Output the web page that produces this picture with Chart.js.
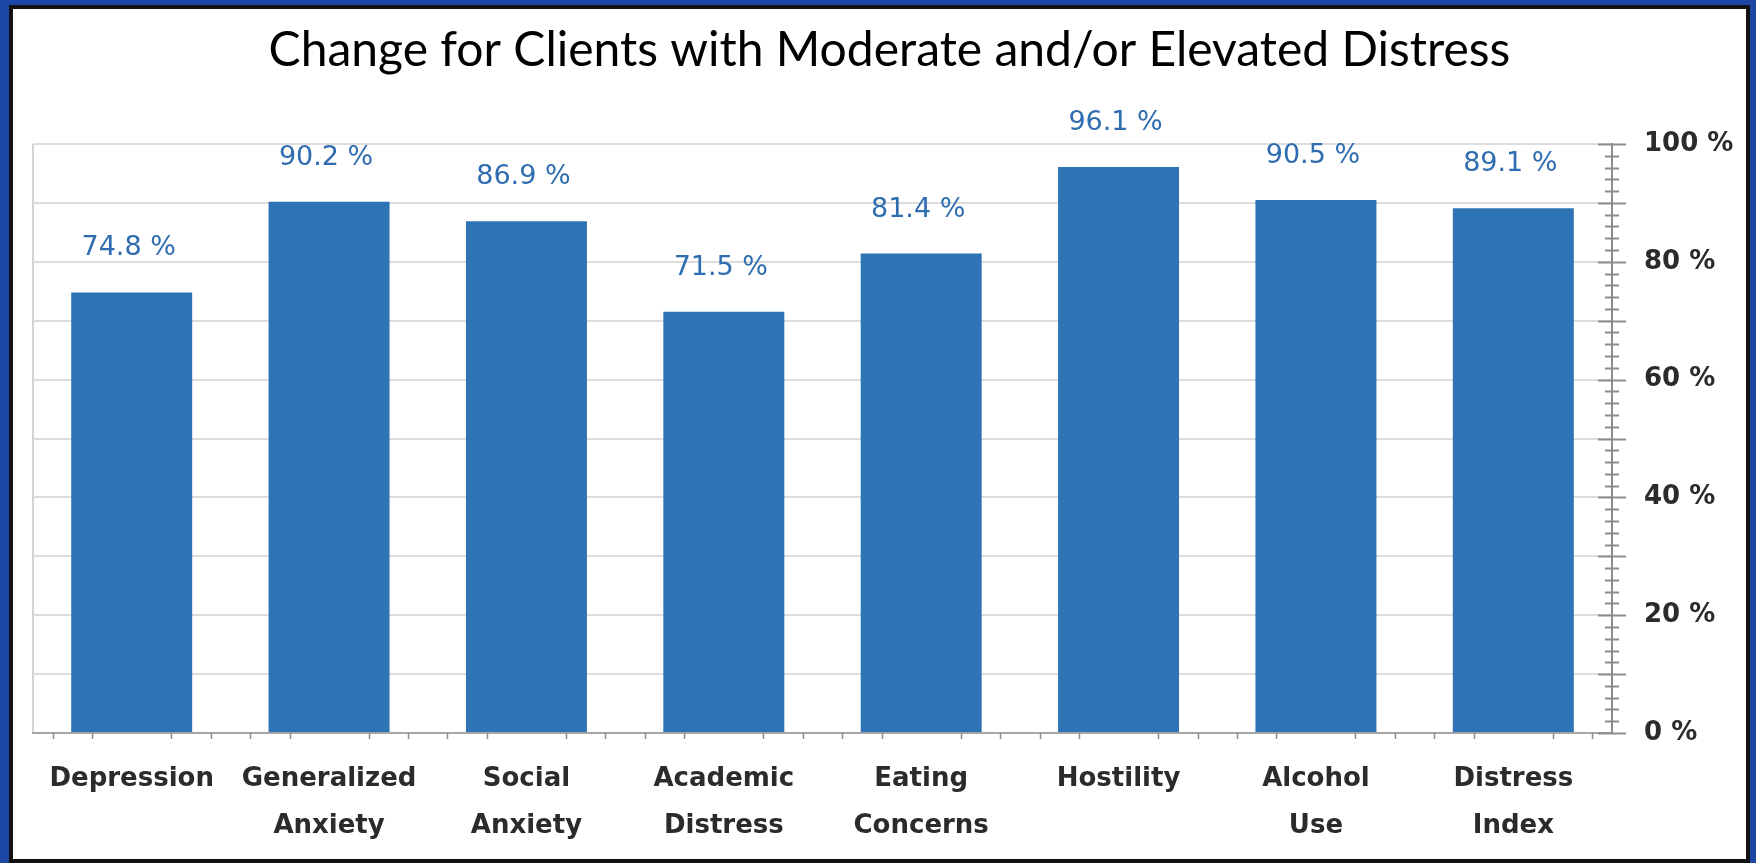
<!DOCTYPE html>
<html>
<head>
<meta charset="utf-8">
<title>Change for Clients with Moderate and/or Elevated Distress</title>
<script src="https://cdn.jsdelivr.net/npm/chart.js@4.4.1/dist/chart.umd.min.js"></script>
<style>
    html, body { margin: 0; padding: 0; }
    body { width: 1756px; height: 863px; background: #1b46a3; position: relative; overflow: hidden; }
    .frame {
        position: absolute; left: 9px; top: 5px; width: 1741px; height: 858px;
        box-sizing: border-box; border: 4px solid #111; background: #fff;
    }
    .frame canvas { display: block; }
</style>
</head>
<body>
<div class="frame">
    <canvas id="changeChart" width="1733" height="850"></canvas>
</div>
<script>
// Share of clients showing change, by scale
const categories = [
    'Depression',
    ['Generalized', 'Anxiety'],
    ['Social', 'Anxiety'],
    ['Academic', 'Distress'],
    ['Eating', 'Concerns'],
    'Hostility',
    ['Alcohol', 'Use'],
    ['Distress', 'Index']
];
const changeValues = [74.8, 90.2, 86.9, 71.5, 81.4, 96.1, 90.5, 89.1];
const percentTicks = [0, 20, 40, 60, 80, 100];

const tahomaLike = "'DejaVu Sans', Verdana, sans-serif";

// Tick marks on both axes and value labels above the bars
const axisMarks = {
    id: 'axisMarks',
    afterDraw(chart) {
        const { ctx, scales: { x, y } } = chart;
        ctx.save();
        ctx.strokeStyle = '#8c8c8c';

        // y axis: long marks every 10, short every 2
        ctx.lineWidth = 2;
        for (let v = 0; v <= 100; v += 2) {
            const py = Math.round(y.getPixelForValue(v)) + 0.5;
            const half = v % 10 === 0 ? 14 : 7;
            ctx.beginPath();
            ctx.moveTo(y.left - half, py);
            ctx.lineTo(y.left + half, py);
            ctx.stroke();
        }

        // x axis: small marks under each category
        ctx.lineWidth = 1.5;
        categories.forEach((c, i) => {
            [-0.4, -0.2, 0.2, 0.4].forEach(f => {
                const px = Math.round(x.getPixelForValue(i + f)) + 0.5;
                ctx.beginPath();
                ctx.moveTo(px, x.top);
                ctx.lineTo(px, x.top + 6);
                ctx.stroke();
            });
        });

        // values above bars
        ctx.fillStyle = '#2f6db0';
        ctx.font = "27px " + tahomaLike;
        ctx.textAlign = 'center';
        ctx.textBaseline = 'middle';
        chart.getDatasetMeta(0).data.forEach((bar, i) => {
            ctx.fillText(changeValues[i].toFixed(1) + ' %', bar.x - 3, bar.y - 44);
        });
        ctx.restore();
    }
};

document.addEventListener('DOMContentLoaded', function() {
    const ctx = document.getElementById('changeChart').getContext('2d');
    new Chart(ctx, {
        type: 'bar',
        data: {
            labels: categories,
            datasets: [{
                data: changeValues,
                backgroundColor: '#2e74b5',
                borderWidth: 0,
                barPercentage: 0.613,
                categoryPercentage: 1
            }]
        },
        options: {
            responsive: false,
            animation: false,
            layout: {
                padding: { left: 20, right: 0, top: 0, bottom: 0 }
            },
            scales: {
                x: {
                    grid: {
                        drawTicks: false,
                        lineWidth: 2,
                        color: c => c.index === 0 ? '#d4d4d4' : 'rgba(0,0,0,0)'
                    },
                    border: { display: true, color: '#a6a6a6', width: 2 },
                    ticks: {
                        padding: 23,
                        color: '#2b2b2b',
                        maxRotation: 0,
                        autoSkip: false,
                        font: { family: tahomaLike, size: 26, weight: 'bold', lineHeight: 1.8 }
                    },
                    afterFit: s => { s.height = 126; }
                },
                y: {
                    position: 'right',
                    min: 0,
                    max: 100,
                    grid: { drawTicks: false, color: '#dcdcdc', lineWidth: 2 },
                    border: { display: true, color: '#8c8c8c', width: 2 },
                    ticks: {
                        stepSize: 10,
                        padding: 32,
                        color: '#2b2b2b',
                        font: { family: tahomaLike, size: 26, weight: 'bold' },
                        callback: v => percentTicks.includes(v) ? v + ' %' : ''
                    },
                    afterFit: s => { s.width = 134; }
                }
            },
            plugins: {
                legend: { display: false },
                tooltip: { enabled: false },
                title: {
                    display: true,
                    text: 'Change for Clients with Moderate and/or Elevated Distress',
                    color: '#000',
                    font: { family: 'Lato, sans-serif', size: 48, weight: 'normal', lineHeight: 1.2 },
                    padding: { top: 13, bottom: 64.4 }
                }
            }
        },
        plugins: [axisMarks]
    });
});
</script>
</body>
</html>
